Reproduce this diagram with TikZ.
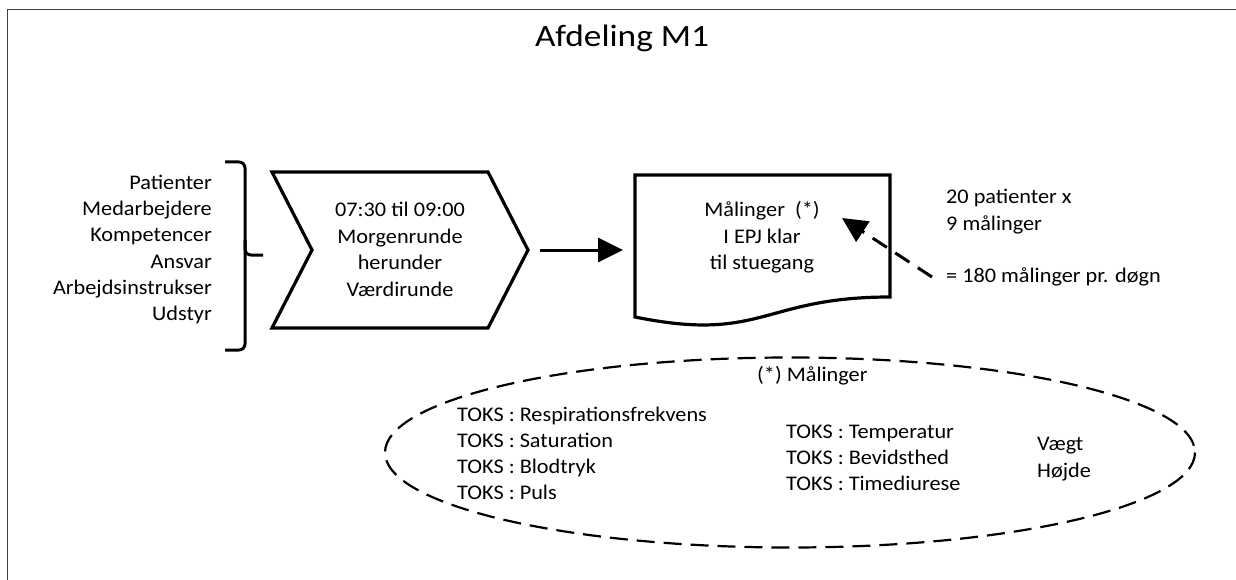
\documentclass[tikz,border=0pt]{standalone}
\usepackage{fontspec}
\setmainfont{Carlito}
\newfontfamily\bodyfont[FakeStretch=1.07]{Carlito}
\newfontfamily\titlefont[FakeStretch=1.14]{Carlito}
\usetikzlibrary{arrows.meta}

\tikzset{
  txt/.style={inner sep=0pt, font=\bodyfont\fontsize{20.8}{26}\selectfont},
  ttl/.style={inner sep=0pt, font=\titlefont\fontsize{31}{36}\selectfont},
  shape line/.style={line width=3.2pt, line join=miter},
  bigtip/.style={-{Triangle[length=25pt,width=24pt]}},
  frame/.style={draw=black!75, line width=1.6pt},
  dashline/.style={line width=3pt, dash pattern=on 17pt off 10pt},
  ovaldash/.style={line width=2.2pt, dash pattern=on 18pt off 9pt}
}

\begin{document}
\begin{tikzpicture}[x=1pt, y=-1pt]
  \useasboundingbox (0,0) rectangle (1236,580);

  % page frame (top and left edges)
  \draw[frame] (7.5,580) -- (7.5,9.5) -- (1236,9.5);

  % title
  \node[ttl, anchor=base] (title) at (622,46.5) {Afdeling M1};

  % resources listed on the left
  \foreach \t [count=\i from 0] in {Patienter, Medarbejdere, Kompetencer, Ansvar, Arbejdsinstrukser, Udstyr}
    \node[txt, anchor=base east] (res\i) at (212,189.5+26.2*\i) {\t};

  % curly bracket
  \draw[line width=3pt, rounded corners=6pt]
    (225,162) -- (245,162) -- (245,255) -- (245,350) -- (225,350);
  \draw[line width=3pt, rounded corners=6pt]
    (245,240) -- (245,255) -- (263,255);

  % process chevron
  \draw[shape line] (272,172) -- (488,172) -- (528,250) -- (488,328)
    -- (272,328) -- (312,250) -- cycle;
  \foreach \t [count=\i from 0] in {07:30 til 09:00, Morgenrunde, herunder, Værdirunde}
    \node[txt, anchor=base] (chev\i) at (400,216.5+26.7*\i) {\t};

  % document shape
  \draw[shape line] (635,175) -- (890,175) -- (890,297)
    .. controls (762.5,297) and (762.5,343) .. (635,317) -- cycle;
  \node[txt, anchor=base] (doc0) at (762,216.5) {Målinger\ \ (*)};
  \node[txt, anchor=base] (doc1) at (762,243) {I EPJ klar};
  \node[txt, anchor=base] (doc2) at (762,269) {til stuegang};

  % flow arrow between chevron and document
  \coordinate (flowstart) at (540,250);
  \coordinate (flowend) at (623,250);
  \draw[line width=3pt, bigtip] (flowstart) -- (flowend);

  % count of measurements
  \node[txt, anchor=base west] (cnt0) at (946,203.5) {20 patienter x};
  \node[txt, anchor=base west] (cnt1) at (946,230) {9 målinger};
  \node[txt, anchor=base west] (cnt2) at (946,282) {= 180 målinger pr. døgn};

  % dashed arrow pointing back into the document
  \coordinate (dstart) at (932,277);
  \coordinate (dend) at (842,218);
  \draw[dashline, bigtip] (dstart) -- (dend);

  % dashed oval with the list of measurements
  \draw[ovaldash] (790,452.5) ellipse [x radius=405, y radius=95];
  \node[txt, anchor=base west] (oval) at (757,381.5) {(*) Målinger};

  \foreach \t [count=\i from 0] in {Respirationsfrekvens, Saturation, Blodtryk, Puls}
    \node[txt, anchor=base west] (ta\i) at (457,421.5+26.1*\i) {TOKS : \t};
  \foreach \t [count=\i from 0] in {Temperatur, Bevidsthed, Timediurese}
    \node[txt, anchor=base west] (tb\i) at (786,438.3+26*\i) {TOKS : \t};
  \node[txt, anchor=base west] (vg) at (1037,450.7) {Vægt};
  \node[txt, anchor=base west] (hj) at (1037,477.3) {Højde};
\end{tikzpicture}
\end{document}
